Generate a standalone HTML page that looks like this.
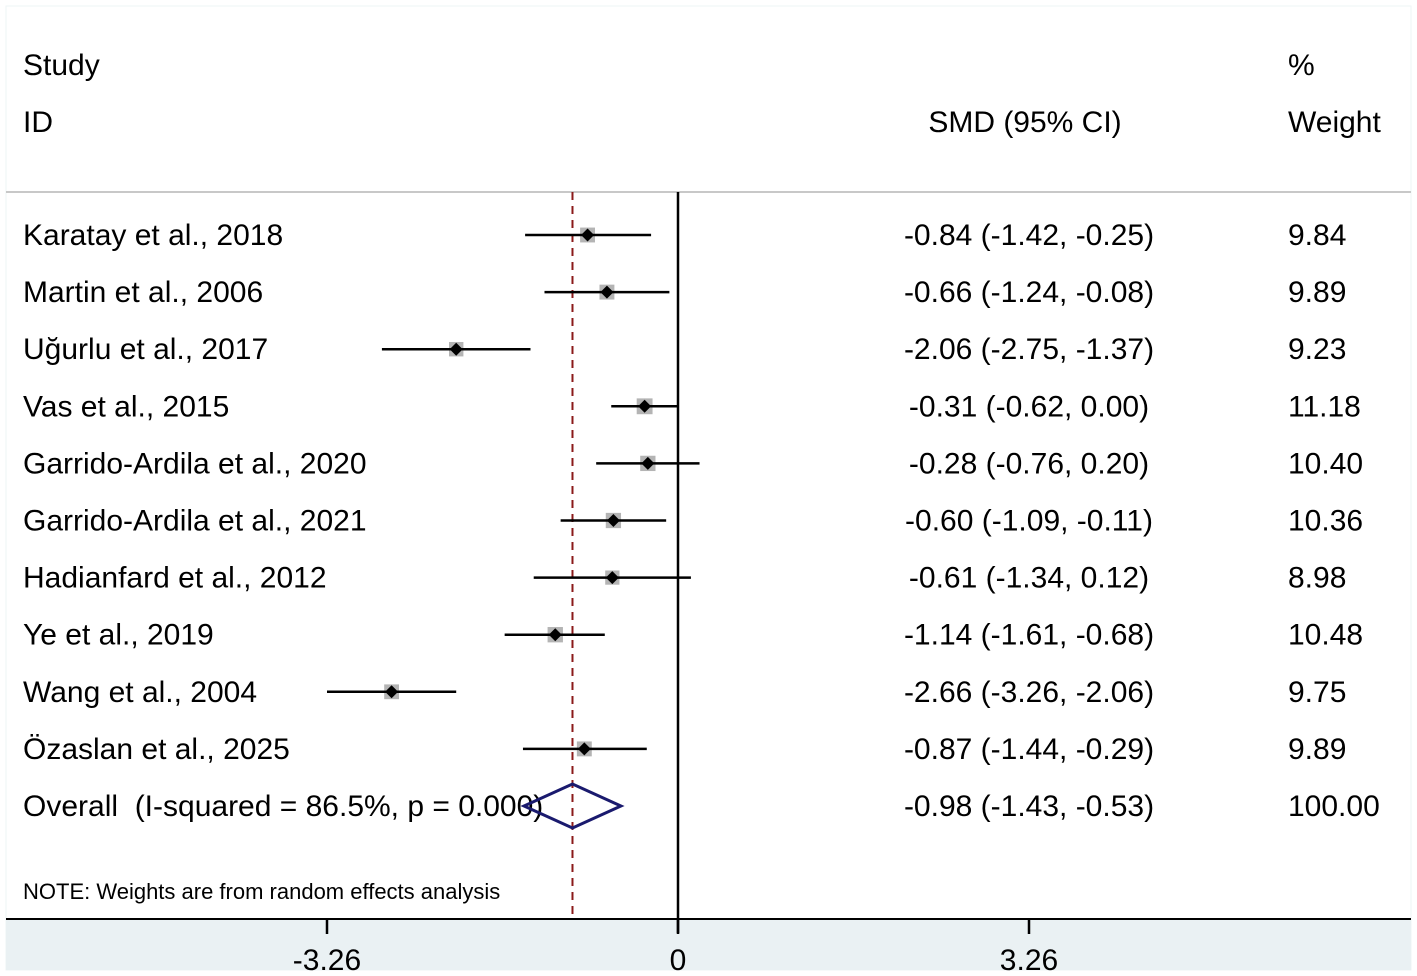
<!DOCTYPE html>
<html><head><meta charset="utf-8"><style>
body{margin:0;background:#fff;}
svg{display:block;font-family:"Liberation Sans",Arial,sans-serif;}
</style></head><body>
<svg id="plot" width="1417" height="976" viewBox="0 0 1417 976">
<rect x="6" y="6" width="1405" height="964" fill="#fff" stroke="#eef4f6" stroke-width="1"/>
<rect x="6" y="920" width="1405" height="50" fill="#eaf1f3"/>
<line x1="6" y1="192" x2="1411" y2="192" stroke="#c8c8c8" stroke-width="2"/>
<line x1="6" y1="919" x2="1411" y2="919" stroke="#000" stroke-width="2"/>
<g font-size="30" fill="#000">
<text x="23" y="75">Study</text>
<text x="23" y="132">ID</text>
<text x="1025" y="132" text-anchor="middle">SMD (95% CI)</text>
<text x="1288" y="75">%</text>
<text x="1288" y="132">Weight</text>
</g>
<text x="23" y="899" font-size="22">NOTE: Weights are from random effects analysis</text>
<g id="marks"></g>
</svg>
<script>
const studies=["Karatay et al., 2018","Martin et al., 2006","Uğurlu et al., 2017","Vas et al., 2015","Garrido-Ardila et al., 2020","Garrido-Ardila et al., 2021","Hadianfard et al., 2012","Ye et al., 2019","Wang et al., 2004","Özaslan et al., 2025"];
const smd=[-0.84,-0.66,-2.06,-0.31,-0.28,-0.60,-0.61,-1.14,-2.66,-0.87];
const lower=[-1.42,-1.24,-2.75,-0.62,-0.76,-1.09,-1.34,-1.61,-3.26,-1.44];
const upper=[-0.25,-0.08,-1.37,0.00,0.20,-0.11,0.12,-0.68,-2.06,-0.29];
const weights=[9.84,9.89,9.23,11.18,10.40,10.36,8.98,10.48,9.75,9.89];
const overall=[-0.98,-1.43,-0.53];
const overallLabel="Overall\u00a0\u00a0(I-squared = 86.5%, p = 0.000)";
const ticks=[-3.26,0,3.26];
const tickLabels=["-3.26","0","3.26"];

const NS="http://www.w3.org/2000/svg";
const X=v=>678+v*(351/3.26);
const rowY=i=>235+i*57.1;
const g=document.getElementById('marks');
function mk(tag,attrs,txt){const e=document.createElementNS(NS,tag);for(const k in attrs)e.setAttribute(k,attrs[k]);if(txt!==undefined)e.textContent=txt;g.appendChild(e);return e;}
const f2=v=>v.toFixed(2);
let e=mk('line',{x1:X(0),y1:192,x2:X(0),y2:933,stroke:'#000','stroke-width':2.5});


e=mk('line',{x1:X(overall[0]),y1:192,x2:X(overall[0]),y2:919,stroke:'#8b1a1a','stroke-width':2,'stroke-dasharray':'8,6'});


studies.forEach((s,i)=>{
  const y=rowY(i);
  let t=mk('text',{x:23,y:y+10,'font-size':30},s);
  
  
  const sz=15*Math.sqrt(weights[i]/10);
  let r=mk('rect',{x:X(smd[i])-sz/2,y:y-sz/2,width:sz,height:sz,fill:'#b4b4b4'});
  
  
  let l=mk('line',{x1:X(lower[i]),y1:y,x2:X(upper[i]),y2:y,stroke:'#000','stroke-width':2.5});
  
  
  const d=6.5;
  let p=mk('polygon',{points:`${X(smd[i])-d},${y} ${X(smd[i])},${y-d} ${X(smd[i])+d},${y} ${X(smd[i])},${y+d}`,fill:'#000'});
  
  
  let c=mk('text',{x:1029,y:y+10,'font-size':30,'text-anchor':'middle'},`${f2(smd[i])} (${f2(lower[i])}, ${f2(upper[i])})`);
  
  
  let w=mk('text',{x:1288,y:y+10,'font-size':30},f2(weights[i]));
  
  
});
const oy=rowY(studies.length);
let ot=mk('text',{x:23,y:oy+10,'font-size':30},overallLabel);


let dia=mk('polygon',{points:`${X(overall[1])},${oy} ${X(overall[0])},${oy-22} ${X(overall[2])},${oy} ${X(overall[0])},${oy+22}`,fill:'none',stroke:'#1a1a6e','stroke-width':3});


let oc=mk('text',{x:1029,y:oy+10,'font-size':30,'text-anchor':'middle'},`${f2(overall[0])} (${f2(overall[1])}, ${f2(overall[2])})`);


let ow=mk('text',{x:1288,y:oy+10,'font-size':30},'100.00');


ticks.forEach((v,i)=>{
  let tk=mk('line',{x1:X(v),y1:919,x2:X(v),y2:934,stroke:'#000','stroke-width':2.5});
  
  
  let tl=mk('text',{x:X(v),y:970,'font-size':30,'text-anchor':'middle'},tickLabels[i]);
  
  
});
</script>
</body></html>
